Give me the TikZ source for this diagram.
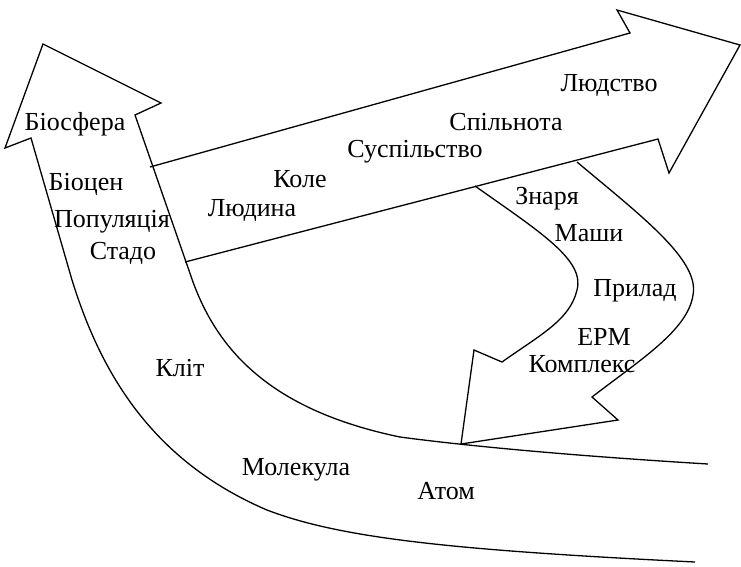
\documentclass[tikz,border=0pt]{standalone}
\usepackage{fontspec}
\setmainfont{Liberation Serif}
\begin{document}
\begin{tikzpicture}[x=1pt,y=-1pt,
  edge/.style={draw=black,line width=1.3pt,line join=miter},
  lbl/.style={anchor=base,inner sep=0pt,font=\fontsize{26}{28}\selectfont}]
\useasboundingbox (0,0) rectangle (741,566);
% left (rising) arrow
\coordinate (lo) at (31,138);
\coordinate (lb) at (5,148);
\coordinate (lt) at (43,44);
\coordinate (rb) at (161,103);
\coordinate (ri) at (135,115);
\coordinate (le) at (695,562);
\coordinate (re) at (708,464);
\draw[edge] (le) .. controls (450,550) and (340,538) .. (267,510)
   .. controls (150,460) and (100,370) .. (72,280) -- (lo) -- (lb) -- (lt) -- (rb) -- (ri)
   -- (193,282) .. controls (218,350) and (270,410) .. (400,437)
   .. controls (460,445) and (560,455) .. (re);
% upper (rightward) arrow
\coordinate (ua) at (150,167);
\coordinate (ub) at (630,33);
\coordinate (uc) at (617,10);
\coordinate (ud) at (740,45);
\coordinate (ue) at (669,173);
\coordinate (uf) at (658,139);
\coordinate (ug) at (185,262);
\draw[edge] (ua) -- (ub) -- (uc) -- (ud) -- (ue) -- (uf) -- (ug);
% lower (descending) arrow
\coordinate (ds) at (475,186);
\coordinate (da) at (502,362);
\coordinate (db) at (474,350);
\coordinate (dc) at (461,444);
\coordinate (dd) at (618,420);
\coordinate (de) at (592,397);
\coordinate (df) at (577,162);
\draw[edge] (ds) .. controls (540,232) and (585,260) .. (577,290)
   .. controls (570,320) and (540,335) .. (da) -- (db) -- (dc) -- (dd) -- (de)
   .. controls (640,360) and (688,330) .. (693,295)
   .. controls (700,260) and (640,215) .. (df);
% labels
\node[lbl] (t1) at (75,130) {Біосфера};
\node[lbl] (t2) at (86,190) {Біоцен};
\node[lbl] (t3) at (112,227) {Популяція};
\node[lbl] (t4) at (123,259) {Стадо};
\node[lbl] (t5) at (252,216) {Людина};
\node[lbl] (t6) at (300,187) {Коле};
\node[lbl] (t7) at (415,157) {Суспільство};
\node[lbl] (t8) at (506,130) {Спільнота};
\node[lbl] (t9) at (609,91) {Людство};
\node[lbl] (t10) at (547,204) {Знаря};
\node[lbl] (t11) at (589,241) {Маши};
\node[lbl] (t12) at (635,296) {Прилад};
\node[lbl] (t13) at (604,345) {ЕРМ};
\node[lbl] (t14) at (582,372) {Комплекс};
\node[lbl] (t15) at (180,376) {Кліт};
\node[lbl] (t16) at (296,475) {Молекула};
\node[lbl] (t17) at (446,499) {Атом};
\end{tikzpicture}
\end{document}
